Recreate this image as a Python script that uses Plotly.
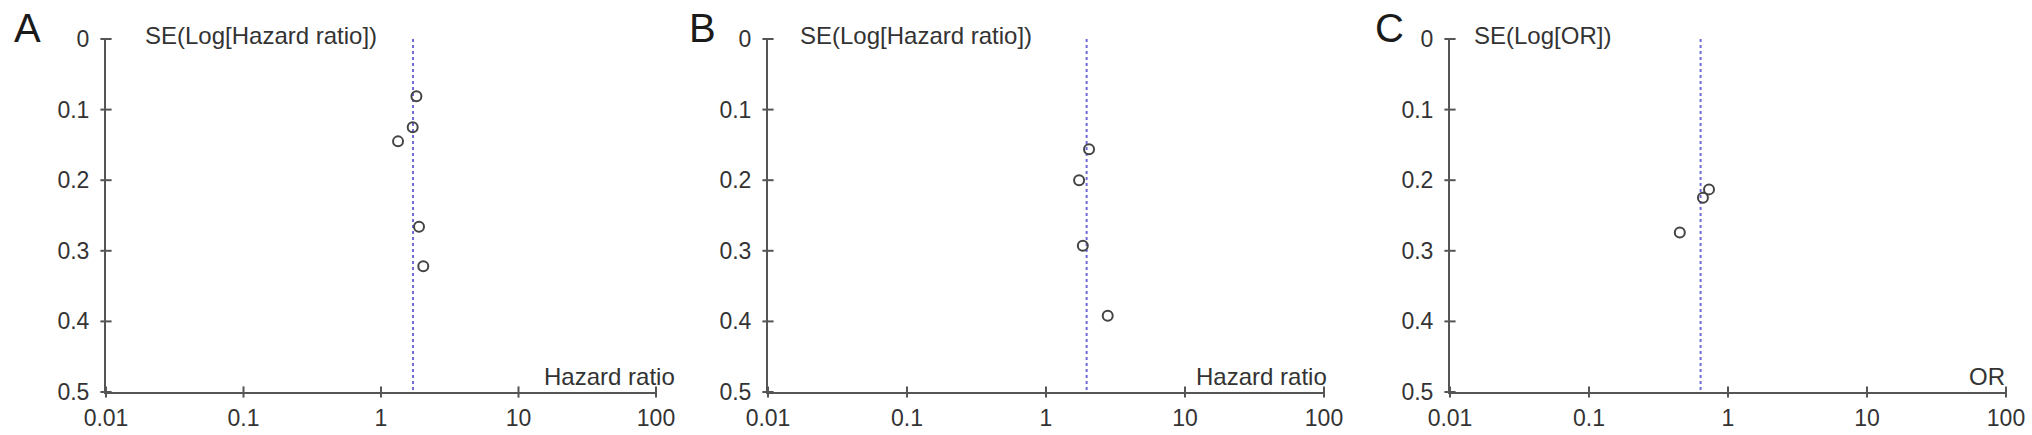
import plotly.graph_objects as go

# ---- data ----
panel_letters = ["A", "B", "C"]
y_titles = ["SE(Log[Hazard ratio])", "SE(Log[Hazard ratio])", "SE(Log[OR])"]
x_titles = ["Hazard ratio", "Hazard ratio", "OR"]

a_effect = [1.81, 1.70, 1.33, 1.89, 2.03]
a_se = [0.081, 0.125, 0.145, 0.266, 0.322]
a_pooled = 1.71

b_effect = [2.04, 1.73, 1.84, 2.78]
b_se = [0.156, 0.200, 0.293, 0.392]
b_pooled = 1.96

c_effect = [0.73, 0.66, 0.45]
c_se = [0.213, 0.225, 0.274]
c_pooled = 0.635

x_tickvals = [0.01, 0.1, 1, 10, 100]
x_ticktext = ["0.01", "0.1", "1", "10", "100"]
y_tickvals = [0, 0.1, 0.2, 0.3, 0.4, 0.5]
y_ticktext = ["0", "0.1", "0.2", "0.3", "0.4", "0.5"]

effects = [a_effect, b_effect, c_effect]
ses = [a_se, b_se, c_se]
pooled = [a_pooled, b_pooled, c_pooled]

# ---- layout geometry (page pixels) ----
W, H = 2032, 435
x_px = [(106, 656), (768, 1324), (1450, 2006)]
y_top, y_bot = 39, 392
ytitle_left = [143, 798, 1472]
letter_left = [12, 687, 1373]
xtitle_right = [677, 1329, 2007]


def px_x(v):
    return v / W


def px_y(v):
    return 1 - v / H


AX = "#555555"
TXT = "#333333"
FONT = "Liberation Sans, Arial, sans-serif"

fig = go.Figure()
annotations = []
for i in range(3):
    xa = "x" if i == 0 else f"x{i+1}"
    ya = "y" if i == 0 else f"y{i+1}"
    # pooled dotted line
    fig.add_trace(go.Scatter(x=[pooled[i], pooled[i]], y=[0, 0.5], mode="lines",
                             line=dict(color="#6e6ad6", width=2, dash="dot"),
                             xaxis=xa, yaxis=ya, showlegend=False, hoverinfo="skip"))
    # study points
    fig.add_trace(go.Scatter(x=effects[i], y=ses[i], mode="markers",
                             marker=dict(symbol="circle-open", size=10, color="#444444",
                                         line=dict(width=2, color="#444444")),
                             xaxis=xa, yaxis=ya, showlegend=False))
    # crossing tick marks
    fig.add_trace(go.Scatter(x=x_tickvals, y=[0.5] * len(x_tickvals), mode="markers",
                             marker=dict(symbol="line-ns", size=8,
                                         line=dict(width=2, color=AX)),
                             cliponaxis=False, xaxis=xa, yaxis=ya,
                             showlegend=False, hoverinfo="skip"))
    fig.add_trace(go.Scatter(x=[0.01] * len(y_tickvals), y=y_tickvals, mode="markers",
                             marker=dict(symbol="line-ew", size=8,
                                         line=dict(width=2, color=AX)),
                             cliponaxis=False, xaxis=xa, yaxis=ya,
                             showlegend=False, hoverinfo="skip"))
    x0, x1 = x_px[i]
    fig.update_layout(**{
        ("xaxis" if i == 0 else f"xaxis{i+1}"): dict(
            type="log", range=[-2, 2], domain=[px_x(x0), px_x(x1)],
            anchor=ya, showgrid=False, zeroline=False, showline=True,
            linecolor=AX, linewidth=2, ticks="", automargin=False,
            tickvals=x_tickvals, ticktext=x_ticktext,
            tickfont=dict(family=FONT, size=23, color=TXT),
            ticklabelstandoff=4),
        ("yaxis" if i == 0 else f"yaxis{i+1}"): dict(
            range=[0.5, 0], domain=[px_y(y_bot), px_y(y_top)],
            anchor=xa, showgrid=False, zeroline=False, showline=True,
            linecolor=AX, linewidth=2, ticks="", automargin=False,
            tickvals=y_tickvals, ticktext=y_ticktext,
            tickfont=dict(family=FONT, size=23, color=TXT),
            ticklabelstandoff=10),
    })
    annotations.append(dict(text=panel_letters[i], xref="paper", yref="paper",
                            x=px_x(letter_left[i]), y=px_y(28),
                            xanchor="left", yanchor="middle", showarrow=False,
                            font=dict(family=FONT, size=40, color="#1a1a1a")))
    annotations.append(dict(text=y_titles[i], xref="paper", yref="paper",
                            x=px_x(ytitle_left[i]), y=px_y(35),
                            xanchor="left", yanchor="middle", showarrow=False,
                            font=dict(family=FONT, size=24, color=TXT)))
    annotations.append(dict(text=x_titles[i], xref="paper", yref="paper",
                            x=px_x(xtitle_right[i]), y=px_y(376),
                            xanchor="right", yanchor="middle", showarrow=False,
                            font=dict(family=FONT, size=24, color=TXT)))

fig.update_layout(width=W, height=H, margin=dict(l=0, r=0, t=0, b=0, autoexpand=False),
                  paper_bgcolor="white", plot_bgcolor="white",
                  annotations=annotations, showlegend=False)

fig.write_html("out.html", config={"displayModeBar": False},
               post_script="document.body.style.margin='0';document.body.style.overflow='hidden';")
